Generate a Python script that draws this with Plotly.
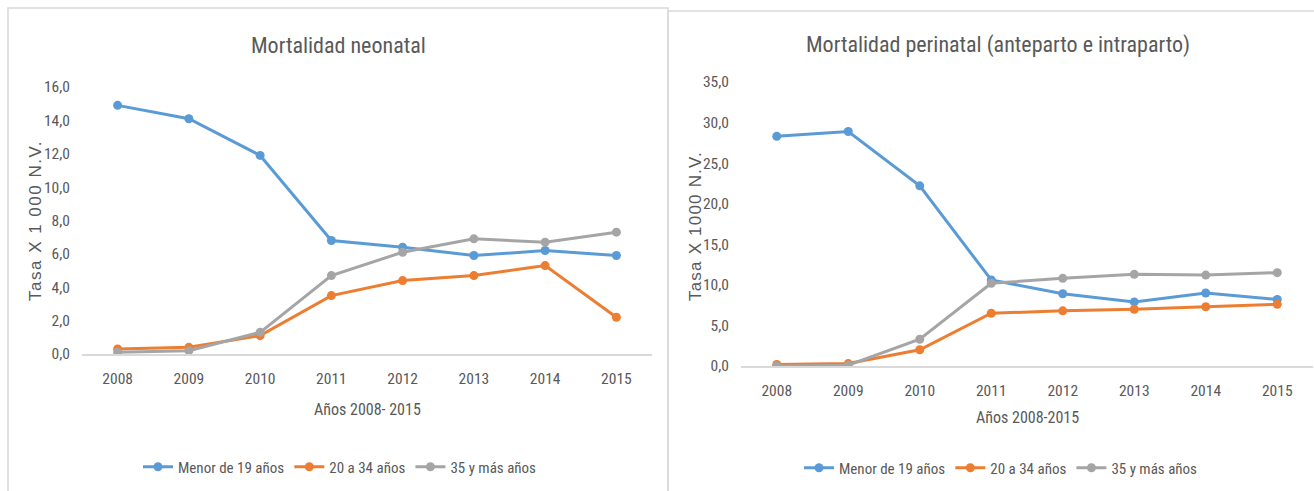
import plotly.graph_objects as go

# Years on the category axis
anios = ["2008", "2009", "2010", "2011", "2012", "2013", "2014", "2015"]

# Neonatal mortality, rate per 1 000 live births, by mother's age group
neo_menor19 = [14.9, 14.1, 11.9, 6.8, 6.4, 5.9, 6.2, 5.9]
neo_20a34 = [0.3, 0.4, 1.1, 3.5, 4.4, 4.7, 5.3, 2.2]
neo_35mas = [0.1, 0.2, 1.3, 4.7, 6.1, 6.9, 6.7, 7.3]

# Perinatal mortality (antepartum and intrapartum), rate per 1000 live births
peri_menor19 = [28.3, 28.9, 22.2, 10.6, 8.9, 7.9, 9.0, 8.2]
peri_20a34 = [0.2, 0.3, 2.0, 6.5, 6.8, 7.0, 7.3, 7.6]
peri_35mas = [0.0, 0.1, 3.3, 10.2, 10.8, 11.3, 11.2, 11.5]

series_names = ["Menor de 19 años", "20 a 34 años", "35 y más años"]
colors = ["#5B9BD5", "#ED7D31", "#A5A5A5"]

W, H = 1314, 491
NARROW = "Liberation Sans Narrow, Arial Narrow, Roboto Condensed, sans-serif"
WIDE = "Liberation Sans, Arial, sans-serif"
TXT = "#595959"


def px(x):
    return x / W


def py(y):
    return 1 - y / H


fig = go.Figure()

for vals, name, col in zip([neo_menor19, neo_20a34, neo_35mas], series_names, colors):
    fig.add_trace(go.Scatter(
        x=anios, y=vals, name=name, mode="lines+markers",
        line=dict(color=col, width=3), marker=dict(color=col, size=9),
        xaxis="x", yaxis="y", legend="legend",
    ))

for vals, name, col in zip([peri_menor19, peri_20a34, peri_35mas], series_names, colors):
    fig.add_trace(go.Scatter(
        x=anios, y=vals, name=name, mode="lines+markers",
        line=dict(color=col, width=3), marker=dict(color=col, size=9),
        xaxis="x2", yaxis="y2", legend="legend2",
    ))

tick_font = dict(family=NARROW, size=15.5, color=TXT)

xaxis_common = dict(
    type="category", range=[-0.5, 7.5], showgrid=False, zeroline=False,
    showline=True, linecolor="#D9D9D9", linewidth=1.5,
    ticks="outside", ticklen=10, tickcolor="rgba(0,0,0,0)",
    tickfont=tick_font, fixedrange=True, automargin=False,
)
yaxis_common = dict(
    showgrid=False, zeroline=False, showline=False, tickformat=".1f",
    ticks="outside", ticklen=8, tickcolor="rgba(0,0,0,0)",
    tickfont=tick_font, fixedrange=True, automargin=False,
)

fig.update_layout(
    width=W, height=H, autosize=False,
    margin=dict(l=0, r=0, t=0, b=0, pad=0, autoexpand=False),
    paper_bgcolor="white", plot_bgcolor="white",
    separators=",.",
    xaxis=dict(xaxis_common, domain=[px(82), px(652)], anchor="y"),
    yaxis=dict(yaxis_common, domain=[py(354), py(87)], range=[0, 16], dtick=2, anchor="x"),
    xaxis2=dict(xaxis_common, domain=[px(741), px(1313)], anchor="y2"),
    yaxis2=dict(yaxis_common, domain=[py(366), py(82)], range=[0, 35], dtick=5, anchor="x2"),
    legend=dict(
        orientation="h", x=px(340), y=py(467), xanchor="center", yanchor="middle",
        font=dict(family=NARROW, size=15, color=TXT), itemwidth=30,
        bgcolor="rgba(0,0,0,0)",
    ),
    legend2=dict(
        orientation="h", x=px(1001), y=py(468), xanchor="center", yanchor="middle",
        font=dict(family=NARROW, size=15, color=TXT), itemwidth=30,
        bgcolor="rgba(0,0,0,0)",
    ),
    showlegend=True,
)

# Chart frames
fig.add_shape(type="rect", xref="paper", yref="paper",
              x0=px(8), x1=px(668), y0=py(500), y1=py(8),
              line=dict(color="#D9D9D9", width=1.5), layer="below")
fig.add_shape(type="rect", xref="paper", yref="paper",
              x0=px(668), x1=px(1330), y0=py(500), y1=py(11),
              line=dict(color="#D9D9D9", width=1.5), layer="below")

# Chart titles
fig.add_annotation(text="Mortalidad neonatal", x=px(338), y=py(45),
                   xref="paper", yref="paper", showarrow=False,
                   xanchor="center", yanchor="middle",
                   font=dict(family=NARROW, size=22, color=TXT))
fig.add_annotation(text="Mortalidad perinatal (anteparto e intraparto)", x=px(998), y=py(45),
                   xref="paper", yref="paper", showarrow=False,
                   xanchor="center", yanchor="middle",
                   font=dict(family=NARROW, size=22, color=TXT))

# Axis titles (vertical ones are slightly letter-spaced)
fig.add_annotation(text='<span style="letter-spacing:1.5px">Tasa X 1 000 N.V.</span>',
                   x=px(36), y=py(221), textangle=-90,
                   xref="paper", yref="paper", showarrow=False,
                   xanchor="center", yanchor="middle",
                   font=dict(family=WIDE, size=17, color=TXT))
fig.add_annotation(text='<span style="letter-spacing:1.2px">Tasa X 1000 N.V.</span>',
                   x=px(695), y=py(226), textangle=-90,
                   xref="paper", yref="paper", showarrow=False,
                   xanchor="center", yanchor="middle",
                   font=dict(family=WIDE, size=17, color=TXT))
fig.add_annotation(text="Años 2008- 2015", x=px(367), y=py(409),
                   xref="paper", yref="paper", showarrow=False,
                   xanchor="center", yanchor="middle",
                   font=dict(family=NARROW, size=16, color=TXT))
fig.add_annotation(text="Años 2008-2015", x=px(1027), y=py(417),
                   xref="paper", yref="paper", showarrow=False,
                   xanchor="center", yanchor="middle",
                   font=dict(family=NARROW, size=16, color=TXT))

fig.write_html("out.html")
